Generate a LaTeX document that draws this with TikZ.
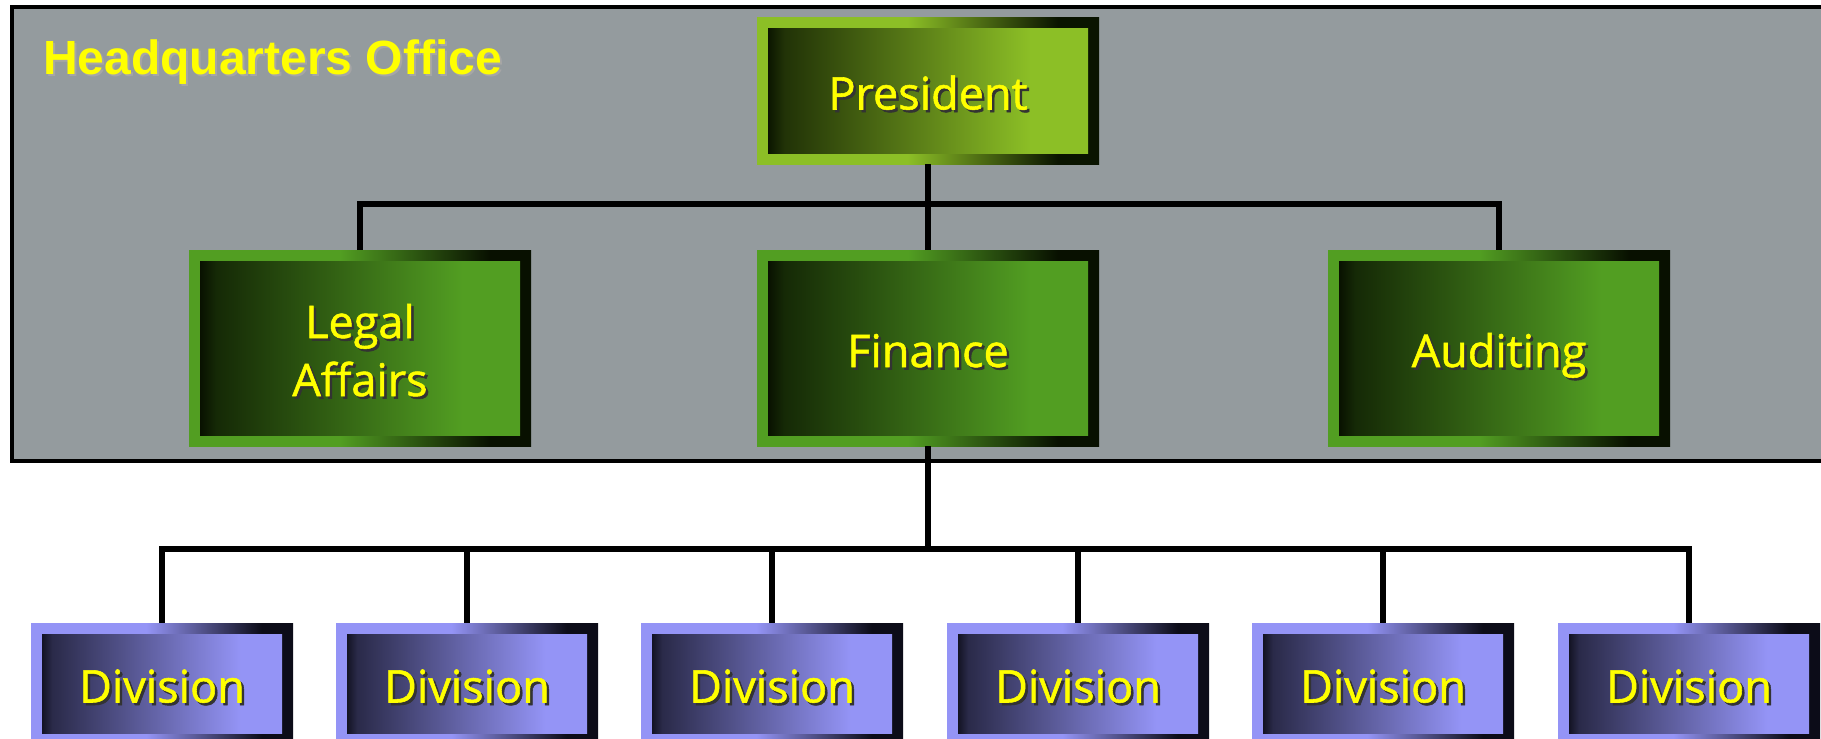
\documentclass[tikz,border=0pt]{standalone}
\usepackage{fontspec}
\setmainfont{Open Sans}
\newfontfamily\boxfont[FakeBold=1.2]{Open Sans}
\newfontfamily\hqfont{Liberation Sans}

% palette
\definecolor{hqgray}{HTML}{949B9E}
\definecolor{lime}{HTML}{8CBF26}
\definecolor{limedark}{HTML}{0A1400}
\definecolor{leaf}{HTML}{529E22}
\definecolor{leafdark}{HTML}{081000}
\definecolor{lilac}{HTML}{9494F6}
\definecolor{lilacdark}{HTML}{0C0C18}
\definecolor{label}{HTML}{FFFF00}

% frame: light on the left, dark on the right
\pgfdeclarehorizontalshading{limeframe}{100bp}{color(0bp)=(lime); color(25bp)=(lime); color(47bp)=(lime); color(69bp)=(limedark); color(100bp)=(limedark)}
\pgfdeclarehorizontalshading{leafframe}{100bp}{color(0bp)=(leaf); color(25bp)=(leaf); color(47bp)=(leaf); color(69bp)=(leafdark); color(100bp)=(leafdark)}
\pgfdeclarehorizontalshading{lilacframe}{100bp}{color(0bp)=(lilac); color(25bp)=(lilac); color(47bp)=(lilac); color(69bp)=(lilacdark); color(100bp)=(lilacdark)}
% face: dark on the left, light on the right
\pgfdeclarehorizontalshading{limefill}{100bp}{color(0bp)=(black); color(25bp)=(black); color(26.5bp)=(limedark); color(29bp)=(lime!18!limedark); color(65bp)=(lime); color(100bp)=(lime)}
\pgfdeclarehorizontalshading{leaffill}{100bp}{color(0bp)=(black); color(25bp)=(black); color(26.5bp)=(leafdark); color(29bp)=(leaf!18!leafdark); color(65bp)=(leaf); color(100bp)=(leaf)}
\pgfdeclarehorizontalshading{lilacfill}{100bp}{color(0bp)=(black); color(25bp)=(black); color(26.5bp)=(lilacdark); color(29bp)=(lilac!22!lilacdark); color(65bp)=(lilac); color(100bp)=(lilac)}

% text with a dark drop shadow
\newcommand\dropshadow[1]{\leavevmode\rlap{\kern2.5pt\raisebox{-2.5pt}{\textcolor{black!80}{#1}}}#1}
\newcommand\softshadow[1]{\leavevmode\rlap{\kern2pt\raisebox{-2pt}{\textcolor{black!35}{#1}}}#1}

\tikzset{
  unit/.style 2 args={rectangle, inner sep=0pt, shade, shading=#1,
    text=label, align=center, font=\boxfont\fontsize{45}{58}\selectfont,
    path picture={\shade[shading=#2]
      ([shift={(11pt,-11pt)}]path picture bounding box.north west) rectangle
      ([shift={(-11pt,11pt)}]path picture bounding box.south east);}},
  oneline/.style={text height=38pt, text depth=0pt},
  office/.style={unit={limeframe}{limefill}, minimum width=342pt, minimum height=147pt},
  dept/.style={unit={leafframe}{leaffill}, minimum width=342pt, minimum height=196pt},
  division/.style={unit={lilacframe}{lilacfill}, oneline, minimum width=262pt, minimum height=121pt},
  conn/.style={line width=5.5pt, draw=black},
}

\begin{document}
\begin{tikzpicture}[x=1pt,y=-1pt]
\useasboundingbox (0,0) rectangle (1821,739);
\clip (0,0) rectangle (1821,739);
\fill[white] (0,0) rectangle (1821,739);

% headquarters area
\draw[line width=4pt, fill=hqgray] (12,7) rectangle (1850,461);
\node[anchor=base west, inner sep=0pt, text=label,
      font=\hqfont\bfseries\fontsize{48}{48}\selectfont] (hqtitle) at (43,74)
      {\softshadow{Headquarters Office}};

% boxes
\node[office, oneline] (pres) at (928,90.5) {\dropshadow{President}};
\node[dept] (legal) at (360,348) {\rule{0pt}{41pt}\dropshadow{Legal}\\\dropshadow{Affairs}};
\node[dept, oneline] (fin) at (928,348) {\dropshadow{Finance}};
\node[dept, oneline] (audit) at (1499,348) {\dropshadow{Auditing}};

\node[division] (d1) at (162,683.5) {\dropshadow{Division}};
\node[division] (d2) at (467,683.5) {\dropshadow{Division}};
\node[division] (d3) at (772,683.5) {\dropshadow{Division}};
\node[division] (d4) at (1078,683.5) {\dropshadow{Division}};
\node[division] (d5) at (1383,683.5) {\dropshadow{Division}};
\node[division] (d6) at (1689,683.5) {\dropshadow{Division}};

% connectors
\coordinate (topbus) at (928,204);
\coordinate (lowbus) at (928,549);
\draw[conn] (pres.south) -- (fin.north);
\draw[conn] (legal.north) |- (topbus) -| (audit.north);
\draw[conn] (fin.south) -- (lowbus);
\draw[conn] (d1.north) |- (lowbus) -| (d6.north);
\foreach \d in {d2,d3,d4,d5}
  \draw[conn] (\d.north) -- (\d.north |- lowbus);
\end{tikzpicture}
\end{document}
